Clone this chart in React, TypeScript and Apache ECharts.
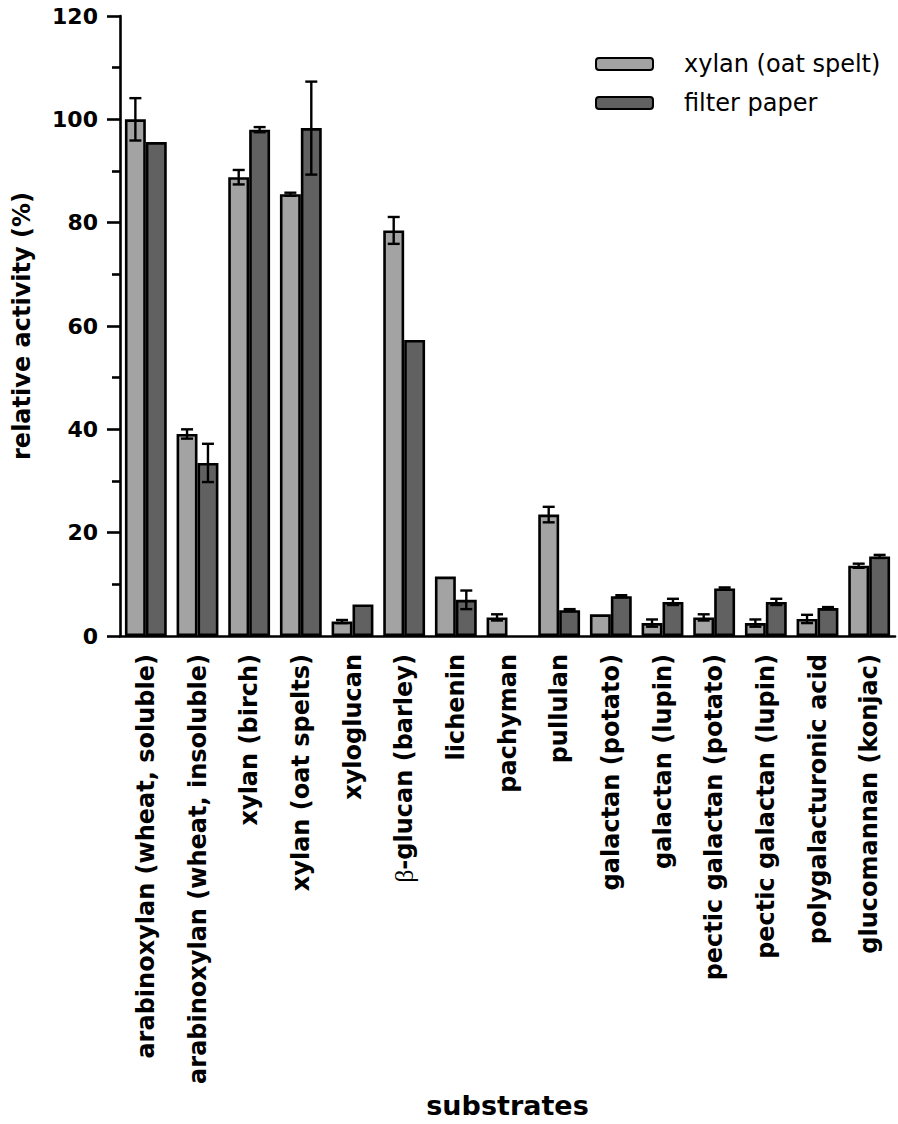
import React, { useEffect, useRef } from "react";
import * as echarts from "echarts";

const categories = [
  "arabinoxylan (wheat, soluble)",
  "arabinoxylan (wheat, insoluble)",
  "xylan (birch)",
  "xylan (oat spelts)",
  "xyloglucan",
  "β-glucan (barley)",
  "lichenin",
  "pachyman",
  "pullulan",
  "galactan (potato)",
  "galactan (lupin)",
  "pectic galactan (potato)",
  "pectic galactan (lupin)",
  "polygalacturonic acid",
  "glucomannan (konjac)",
];

const xylanValues = [100, 39.1, 88.8, 85.5, 2.8, 78.5, 11.5, 3.6, 23.5, 4.2, 2.5, 3.6, 2.5, 3.3, 13.6];
const xylanErr = [4.1, 0.9, 1.4, 0.3, 0.3, 2.6, 0, 0.6, 1.5, 0, 0.7, 0.6, 0.7, 0.8, 0.4];
const paperValues = [95.6, 33.5, 98.0, 98.3, 6.1, 57.3, 7.0, null, 5.0, 7.7, 6.6, 9.2, 6.6, 5.4, 15.4];
const paperErr = [0, 3.7, 0.5, 9.0, 0, 0, 1.8, 0, 0.2, 0.2, 0.6, 0.2, 0.6, 0.2, 0.3];

const yTicks = [0, 20, 40, 60, 80, 100, 120];

const FONT = "DejaVu Sans";
const CAT_GAP = 0.19;

function errData(values: (number | null)[], errs: number[]) {
  return values.map((v, i) => [i, v == null ? 0 : v, errs[i]]);
}

function makeErrSeries(name: string, values: (number | null)[], errs: number[], side: number) {
  return {
    type: "custom",
    name,
    z: 5,
    encode: { x: 0, y: 1 },
    data: errData(values, errs),
    renderItem: (params: any, api: any) => {
      const idx = api.value(0);
      const v = api.value(1);
      const e = api.value(2);
      if (!e) return null;
      const band = api.size([1, 0])[0];
      const off = (band * (1 - CAT_GAP)) / 4 * side;
      const top = api.coord([idx, v + e]);
      const bot = api.coord([idx, v - e]);
      const x = top[0] + off;
      const cap = 6;
      const style = { stroke: "#000", lineWidth: 2.4 };
      return {
        type: "group",
        children: [
          { type: "line", shape: { x1: x, y1: top[1], x2: x, y2: bot[1] }, style },
          { type: "line", shape: { x1: x - cap, y1: top[1], x2: x + cap, y2: top[1] }, style },
          { type: "line", shape: { x1: x - cap, y1: bot[1], x2: x + cap, y2: bot[1] }, style },
        ],
      };
    },
  };
}

export default function App() {
  const ref = useRef<HTMLDivElement>(null);
  useEffect(() => {
    if (!ref.current) return;
    const chart = echarts.init(ref.current, null, { renderer: "svg" });
    chart.setOption({
      animation: false,
      backgroundColor: "#fff",
      textStyle: { fontFamily: FONT, color: "#000" },
      grid: { left: 120, right: 3, top: 16, bottom: 488, containLabel: false, outerBoundsMode: "none" },
      legend: {
        data: ["xylan (oat spelt)", "filter paper"],
        orient: "vertical",
        left: 595,
        top: 52,
        padding: 0,
        itemWidth: 57,
        itemHeight: 12,
        itemGap: 15,
        textStyle: { fontFamily: FONT, fontSize: 24, color: "#000", padding: [0, 0, 0, 26], lineHeight: 24 },
      },
      xAxis: {
        type: "category",
        data: categories,
        axisLine: { lineStyle: { color: "#000", width: 2.6 } },
        axisTick: { alignWithLabel: true, length: 13, lineStyle: { color: "#000", width: 2.6 } },
        axisLabel: {
          rotate: 90,
          interval: 0,
          margin: 18,
          fontFamily: FONT,
          fontWeight: "bold",
          fontSize: 24,
          color: "#000",
          formatter: (v: string) => (v.startsWith("β") ? "{g|β}" + v.slice(1) : v),
          rich: {
            g: { fontFamily: "Liberation Serif", fontWeight: "normal", fontSize: 26, color: "#000" },
          },
        },
        name: "substrates",
        nameLocation: "middle",
        nameGap: 443,
        nameTextStyle: { fontFamily: FONT, fontWeight: "bold", fontSize: 27, color: "#000" },
      },
      yAxis: {
        type: "value",
        min: yTicks[0],
        max: yTicks[yTicks.length - 1],
        interval: 20,
        splitLine: { show: false },
        axisLine: { show: true, lineStyle: { color: "#000", width: 2.6 } },
        axisTick: { show: true, length: 13, lineStyle: { color: "#000", width: 2.6 } },
        minorTick: { show: true, splitNumber: 2, length: 8, lineStyle: { color: "#000", width: 2.6 } },
        axisLabel: { margin: 22, fontFamily: FONT, fontWeight: "bold", fontSize: 22, color: "#000" },
        name: "relative activity (%)",
        nameLocation: "middle",
        nameGap: 86,
        nameTextStyle: { fontFamily: FONT, fontWeight: "bold", fontSize: 24, color: "#000" },
      },
      series: [
        {
          type: "bar",
          name: "xylan (oat spelt)",
          data: xylanValues,
          barGap: "0%",
          barCategoryGap: "19%",
          itemStyle: { color: "#a3a3a3", borderColor: "#000", borderWidth: 2.6 },
        },
        {
          type: "bar",
          name: "filter paper",
          data: paperValues,
          barGap: "0%",
          barCategoryGap: "19%",
          itemStyle: { color: "#616161", borderColor: "#000", borderWidth: 2.6 },
        },
        makeErrSeries("xylan err", xylanValues, xylanErr, -1),
        makeErrSeries("paper err", paperValues, paperErr, 1),
      ],
    });
    return () => chart.dispose();
  }, []);
  return <div ref={ref} style={{ width: 898, height: 1124, position: "absolute", left: 0, top: 0 }} />;
}
